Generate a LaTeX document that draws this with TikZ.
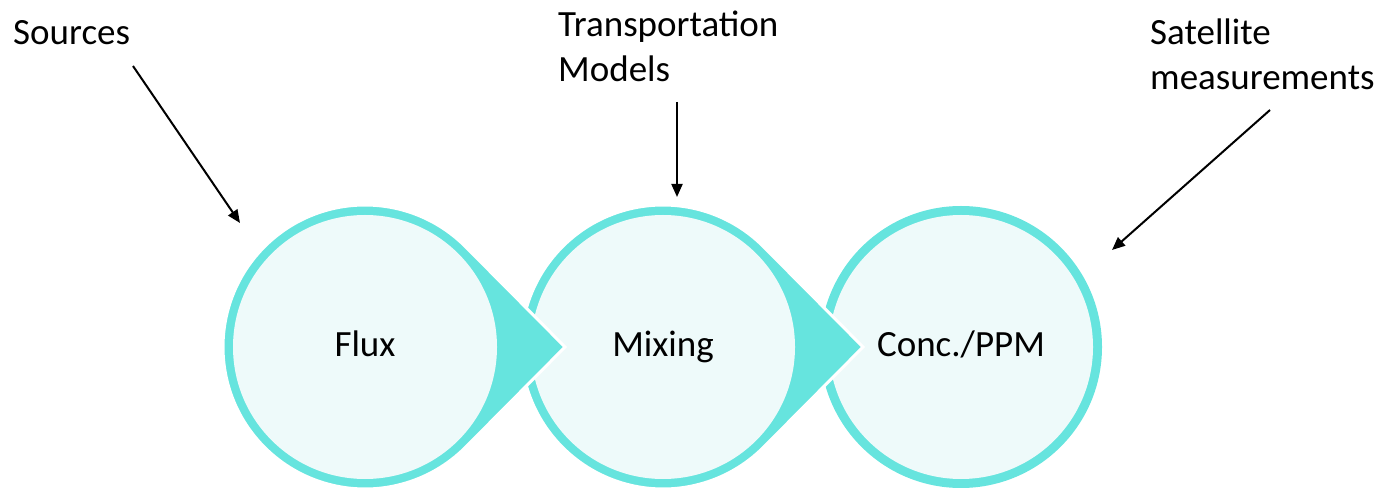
\documentclass[tikz,border=0pt]{standalone}
\usepackage{fontspec}
\setmainfont{Carlito}
\usetikzlibrary{arrows.meta}
\definecolor{ring}{HTML}{66E4DE}
\definecolor{pale}{HTML}{EEFAFA}

\begin{document}
\begin{tikzpicture}[x=1pt,y=1pt,
  lbl/.style={font=\fontsize{37}{45}\selectfont, inner sep=0pt, align=left, anchor=base west},
  stagetext/.style={font=\fontsize{37}{45}\selectfont, inner sep=0pt, anchor=base},
  feed/.style={line width=2pt, -{Triangle[length=13pt,width=11pt]}},
  drop/.style={fill=ring, draw=white, line width=3pt, line join=miter},
]
\useasboundingbox (0,0) rectangle (1380,487);

% last stage: a plain ringed circle
\fill[ring] (961,140) circle[radius=141];
\fill[pale] (961,140) circle[radius=132];

% pointed stages, drawn right to left so each tip overlaps the next circle
\foreach \cx in {663,365} {
  \filldraw[drop] (\cx+200,140) -- ([shift={(44.8:142)}]\cx,140)
      arc[start angle=44.8, end angle=315.2, radius=142] -- cycle;
  \fill[pale] (\cx,140) circle[radius=132];
}

\node[stagetext] (flux) at (365,130) {Flux};
\node[stagetext] (mix)  at (663,130) {Mixing};
\node[stagetext] (conc) at (961,130) {Conc./PPM};

\node[lbl] (src) at (13,442)   {Sources};
\node[lbl] (tm)  at (558,405)  {Transportation\\Models};
\node[lbl] (sat) at (1150,397) {Satellite\\measurements};

\coordinate (srcA) at (133,421);
\coordinate (srcB) at (240,264);
\coordinate (tmA)  at (677,385);
\coordinate (tmB)  at (677,290);
\coordinate (satA) at (1270,377);
\coordinate (satB) at (1112,237);

\draw[feed] (srcA) -- (srcB);
\draw[feed] (tmA) -- (tmB);
\draw[feed] (satA) -- (satB);
\end{tikzpicture}
\end{document}
